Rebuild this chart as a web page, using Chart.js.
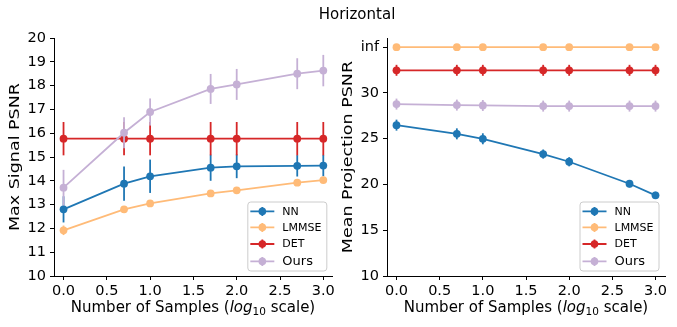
<!DOCTYPE html>
<html>
<head>
<meta charset="utf-8">
<script src="https://cdn.jsdelivr.net/npm/chart.js@4.4.0/dist/chart.umd.min.js"></script>
<style>
  html, body { margin:0; padding:0; background:#fff; }
  #wrap { position:relative; width:677px; height:327px; overflow:hidden; font-family:'DejaVu Sans', sans-serif; color:#000; }
  canvas { position:absolute; top:0; }
  .title { position:absolute; top:7px; left:257px; width:200px; text-align:center; font-size:15px; line-height:15px; }
  .xlab { position:absolute; top:299px; width:320px; text-align:center; font-size:15px; line-height:16px; white-space:nowrap; }
  .xlab sub { font-size:10.5px; vertical-align:-3px; line-height:0; }
  .ylab { position:absolute; width:240px; height:20px; line-height:20px; text-align:center; font-size:17.5px; white-space:nowrap;
          transform: rotate(-90deg) scaleY(0.8); transform-origin:50% 50%; }
</style>
</head>
<body>
<div id="wrap">
  <canvas id="left" width="338" height="327" style="left:0px"></canvas>
  <canvas id="right" width="339" height="327" style="left:338px"></canvas>
  <div class="title">Horizontal</div>
  <div class="ylab" style="left:-106px; top:147px">Max Signal PSNR</div>
  <div class="ylab" style="left:227px; top:147px">Mean Projection PSNR</div>
  <div class="xlab" style="left:33px">Number of Samples (<i>log</i><sub>10</sub> scale)</div>
  <div class="xlab" style="left:366px">Number of Samples (<i>log</i><sub>10</sub> scale)</div>
</div>
<script>
// ---- data ----
const seriesNames = ['NN', 'LMMSE', 'DET', 'Ours'];
const logSamples = [0, 0.699, 1, 1.699, 2, 2.699, 3];
const xTickValues = [0, 0.5, 1, 1.5, 2, 2.5, 3];

// Max Signal PSNR (left)
const nnMax      = [12.80, 13.88, 14.19, 14.55, 14.61, 14.63, 14.64];
const nnMaxErr   = [0.55, 0.72, 0.70, 0.55, 0.50, 0.45, 0.45];
const lmmseMax   = [11.92, 12.80, 13.05, 13.47, 13.60, 13.92, 14.03];
const lmmseMaxErr= [0.20, 0.05, 0.05, 0.05, 0.05, 0.05, 0.05];
const detMax     = [15.77, 15.77, 15.77, 15.77, 15.77, 15.77, 15.77];
const detMaxErr  = [0.70, 0.70, 0.70, 0.70, 0.70, 0.70, 0.70];
const oursMax    = [13.71, 16.02, 16.89, 17.86, 18.05, 18.50, 18.63];
const oursMaxErr = [0.75, 0.65, 0.57, 0.63, 0.65, 0.65, 0.66];
const leftYTicks = [10, 11, 12, 13, 14, 15, 16, 17, 18, 19, 20];

// Mean Projection PSNR (right); 35 stands for "inf"
const nnMean      = [26.48, 25.53, 24.99, 23.32, 22.48, 20.08, 18.81];
const nnMeanErr   = [0.60, 0.60, 0.60, 0.50, 0.50, 0.40, 0.40];
const lmmseMean   = [35, 35, 35, 35, 35, 35, 35];
const lmmseMeanErr= [0, 0, 0, 0, 0, 0, 0];
const detMean     = [32.47, 32.47, 32.47, 32.47, 32.47, 32.47, 32.47];
const detMeanErr  = [0.60, 0.60, 0.60, 0.60, 0.60, 0.60, 0.60];
const oursMean    = [28.78, 28.67, 28.63, 28.56, 28.56, 28.56, 28.56];
const oursMeanErr = [0.60, 0.60, 0.60, 0.60, 0.60, 0.60, 0.60];
const rightYTicks = [10, 15, 20, 25, 30, 35];
const rightYLabels = ['10', '15', '20', '25', '30', 'inf'];

const colors = ['#1f77b4', '#ffbb78', '#d62728', '#c5b0d5'];

Chart.defaults.font.family = "'DejaVu Sans', sans-serif";
Chart.defaults.color = '#000';

const errorBarPlugin = {
  id: 'errBars',
  beforeDatasetDraw(chart, args) {
    const ds = chart.data.datasets[args.index];
    if (!ds.errors) return;
    const xs = chart.scales.x, ys = chart.scales.y, ctx = chart.ctx;
    ctx.save();
    ctx.strokeStyle = ds.borderColor;
    ctx.lineWidth = 1.8;
    ds.data.forEach((p, i) => {
      const e = ds.errors[i];
      if (!e) return;
      const px = xs.getPixelForValue(p.x);
      ctx.beginPath();
      ctx.moveTo(px, ys.getPixelForValue(p.y - e));
      ctx.lineTo(px, ys.getPixelForValue(p.y + e));
      ctx.stroke();
    });
    ctx.restore();
  }
};

const legendPlugin = {
  id: 'boxLegend',
  afterDraw(chart, args, opts) {
    const ctx = chart.ctx, ca = chart.chartArea;
    const w = 79, h = 69;
    const x0 = ca.right - opts.right - w, y0 = ca.bottom - opts.bottom - h;
    ctx.save();
    const r = 3;
    ctx.beginPath();
    ctx.moveTo(x0 + r, y0);
    ctx.arcTo(x0 + w, y0, x0 + w, y0 + h, r);
    ctx.arcTo(x0 + w, y0 + h, x0, y0 + h, r);
    ctx.arcTo(x0, y0 + h, x0, y0, r);
    ctx.arcTo(x0, y0, x0 + w, y0, r);
    ctx.closePath();
    ctx.fillStyle = 'rgba(255,255,255,0.8)';
    ctx.fill();
    ctx.strokeStyle = '#cccccc';
    ctx.lineWidth = 1;
    ctx.stroke();
    const rows = [9.4, 25.4, 42, 59.4];
    const sizes = [11, 11, 11, 13];
    chart.data.datasets.forEach((ds, i) => {
      const y = y0 + rows[i];
      ctx.strokeStyle = ds.borderColor;
      ctx.fillStyle = ds.borderColor;
      ctx.lineWidth = 1.8;
      ctx.beginPath();
      ctx.moveTo(x0 + 2.5, y); ctx.lineTo(x0 + 26.5, y);
      ctx.moveTo(x0 + 14.5, y - 4.5); ctx.lineTo(x0 + 14.5, y + 4.5);
      ctx.stroke();
      ctx.beginPath();
      ctx.arc(x0 + 14.5, y, 3.8, 0, Math.PI * 2);
      ctx.fill();
      ctx.fillStyle = '#000';
      ctx.font = sizes[i] + "px 'DejaVu Sans'";
      ctx.textBaseline = 'middle';
      ctx.textAlign = 'left';
      ctx.fillText(ds.label, x0 + 34.5, y + 0.5);
    });
    ctx.restore();
  }
};

function makeDatasets(vals, errs) {
  return seriesNames.map((name, k) => ({
    label: name,
    data: logSamples.map((x, i) => ({ x: x, y: vals[k][i] })),
    errors: errs[k],
    borderColor: colors[k],
    backgroundColor: colors[k],
    borderWidth: 1.8,
    pointRadius: 3.9,
    pointBorderWidth: 0,
    pointBackgroundColor: colors[k],
    pointHoverRadius: 3.9,
    tension: 0,
    order: 4 - k
  }));
}

function makeChart(id, vals, errs, yOpts, yWidth, padRight) {
  return new Chart(document.getElementById(id), {
    type: 'line',
    data: { datasets: makeDatasets(vals, errs) },
    plugins: [errorBarPlugin, legendPlugin],
    options: {
      responsive: false,
      animation: false,
      devicePixelRatio: 1,
      layout: { padding: { top: 38, right: padRight, left: 0, bottom: 0 } },
      plugins: {
        legend: { display: false },
        tooltip: { enabled: false },
        boxLegend: { right: 6, bottom: 5 }
      },
      scales: {
        x: {
          type: 'linear',
          min: -0.11, max: 3.11,
          afterBuildTicks: (s) => { s.ticks = xTickValues.map(v => ({ value: v })); },
          afterFit: (s) => { s.height = 51; },
          ticks: {
            font: { size: 14.5 }, color: '#000', padding: 3,
            maxRotation: 0, autoSkip: false,
            callback: (v) => Number(v).toFixed(1)
          },
          grid: { drawOnChartArea: false, drawTicks: true, tickLength: 4, color: '#000', lineWidth: 1 },
          border: { display: true, color: '#000', width: 1 }
        },
        y: Object.assign({
          type: 'linear',
          afterFit: (s) => { s.width = yWidth; },
          title: { display: false },
          grid: { drawOnChartArea: false, drawTicks: true, tickLength: 4, color: '#000', lineWidth: 1 },
          border: { display: true, color: '#000', width: 1 }
        }, yOpts)
      }
    }
  });
}

makeChart('left',
  [nnMax, lmmseMax, detMax, oursMax],
  [nnMaxErr, lmmseMaxErr, detMaxErr, oursMaxErr],
  {
    min: 10, max: 20,
    afterBuildTicks: (s) => { s.ticks = leftYTicks.map(v => ({ value: v })); },
    ticks: { font: { size: 14.5 }, color: '#000', padding: 4, autoSkip: false }
  },
  54, 5);

makeChart('right',
  [nnMean, lmmseMean, detMean, oursMean],
  [nnMeanErr, lmmseMeanErr, detMeanErr, oursMeanErr],
  {
    min: 10, max: 36,
    afterBuildTicks: (s) => { s.ticks = rightYTicks.map(v => ({ value: v })); },
    ticks: { font: { size: 14.5 }, color: '#000', padding: 4, autoSkip: false,
      callback: (v) => rightYLabels[rightYTicks.indexOf(v)] }
  },
  49, 12);
</script>
</body>
</html>
